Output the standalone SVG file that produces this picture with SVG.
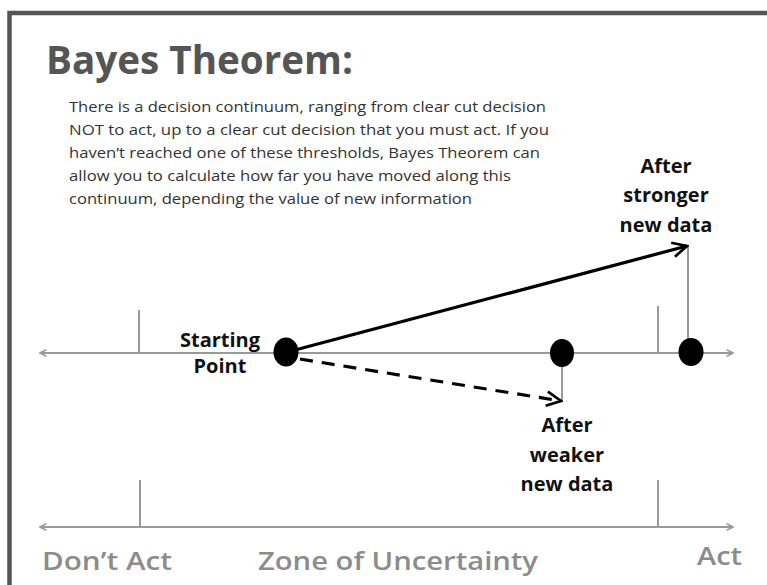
<svg xmlns="http://www.w3.org/2000/svg" width="767" height="585" viewBox="0 0 767 585">
<style>
.title{font-family:"Open Sans","Liberation Sans",sans-serif;font-weight:700;font-size:39px;fill:#555}
.body{font-family:"Open Sans","Liberation Sans",sans-serif;font-size:15px;fill:#333}
.lbl{font-family:"Open Sans","Liberation Sans",sans-serif;font-weight:700;font-size:20px;fill:#111;text-anchor:middle}
.zone{font-family:"Open Sans","Liberation Sans",sans-serif;font-weight:600;font-size:26px;fill:#8c8c8c}
.axis{stroke:#999;stroke-width:2.2;fill:none}
.tick{stroke:#999;stroke-width:2;fill:none}
.dot{fill:#000}
.arrow{stroke:#000;stroke-width:3.2;fill:none}
</style>
<defs>
<marker id="chev" viewBox="0 0 10 10" refX="9" refY="5" markerUnits="userSpaceOnUse" markerWidth="18" markerHeight="18" orient="auto">
<path d="M1,1 L9,5 L1,9" fill="none" stroke="#000" stroke-width="1.5"/>
</marker>
<marker id="achev" viewBox="0 0 10 10" refX="9" refY="5" markerUnits="userSpaceOnUse" markerWidth="8" markerHeight="8" orient="auto-start-reverse">
<path d="M1,1 L9,5 L1,9" fill="none" stroke="#999" stroke-width="2"/>
</marker>
</defs>
<rect x="0" y="0" width="767" height="585" fill="#fff"/>
<rect x="9.5" y="13" width="800" height="620" fill="none" stroke="#555" stroke-width="4.5"/>
<g id="title">
<text class="title" x="46" y="74" textLength="307" lengthAdjust="spacingAndGlyphs">Bayes Theorem:</text>
</g>
<g id="description">
<text class="body" x="69" y="112" textLength="477" lengthAdjust="spacingAndGlyphs">There is a decision continuum, ranging from clear cut decision</text>
<text class="body" x="69" y="135" textLength="480" lengthAdjust="spacingAndGlyphs">NOT to act, up to a clear cut decision that you must act.  If you</text>
<text class="body" x="69" y="158" textLength="471" lengthAdjust="spacingAndGlyphs">haven’t reached one of these thresholds, Bayes Theorem can</text>
<text class="body" x="69" y="181" textLength="442" lengthAdjust="spacingAndGlyphs">allow you to calculate how far you have moved along this</text>
<text class="body" x="69" y="204" textLength="403" lengthAdjust="spacingAndGlyphs">continuum, depending the value of new information</text>
</g>
<g id="connectors">
<line class="axis" x1="40" y1="353" x2="733" y2="353" marker-start="url(#achev)" marker-end="url(#achev)"/>
<line class="tick" x1="139" y1="310" x2="139" y2="353"/>
<line class="tick" x1="658" y1="306" x2="658" y2="353"/>
<line class="axis" x1="40" y1="527" x2="733" y2="527" marker-start="url(#achev)" marker-end="url(#achev)"/>
<line class="tick" x1="140" y1="480" x2="140" y2="527"/>
<line class="tick" x1="658" y1="480" x2="658" y2="527"/>
<line class="tick" x1="688" y1="245" x2="688" y2="345"/>
<line class="tick" x1="562" y1="362" x2="562" y2="402"/>
<line class="arrow" x1="295" y1="350" x2="687" y2="246" marker-end="url(#chev)"/>
<line class="arrow" x1="300" y1="359" x2="561" y2="401" stroke-dasharray="13,9" marker-end="url(#chev)"/>
</g>
<g id="start-point">
<ellipse class="dot" cx="286" cy="352" rx="12.5" ry="14.5"/>
<text class="lbl" x="220" y="347">Starting</text>
<text class="lbl" x="220" y="373">Point</text>
</g>
<g id="weaker-point">
<ellipse class="dot" cx="562" cy="353" rx="12" ry="14"/>
<text class="lbl" x="567" y="432">After</text>
<text class="lbl" x="567" y="462">weaker</text>
<text class="lbl" x="567" y="491">new data</text>
</g>
<g id="stronger-point">
<ellipse class="dot" cx="691" cy="352" rx="12.5" ry="14"/>
<text class="lbl" x="666" y="173">After</text>
<text class="lbl" x="666" y="202">stronger</text>
<text class="lbl" x="666" y="232">new data</text>
</g>
<g id="scale-labels">
<text class="zone" x="42" y="570" textLength="130" lengthAdjust="spacingAndGlyphs">Don’t Act</text>
<text class="zone" x="258" y="570" textLength="280" lengthAdjust="spacingAndGlyphs">Zone of Uncertainty</text>
<text class="zone" x="697" y="565" textLength="45" lengthAdjust="spacingAndGlyphs">Act</text>
</g>
</svg>
